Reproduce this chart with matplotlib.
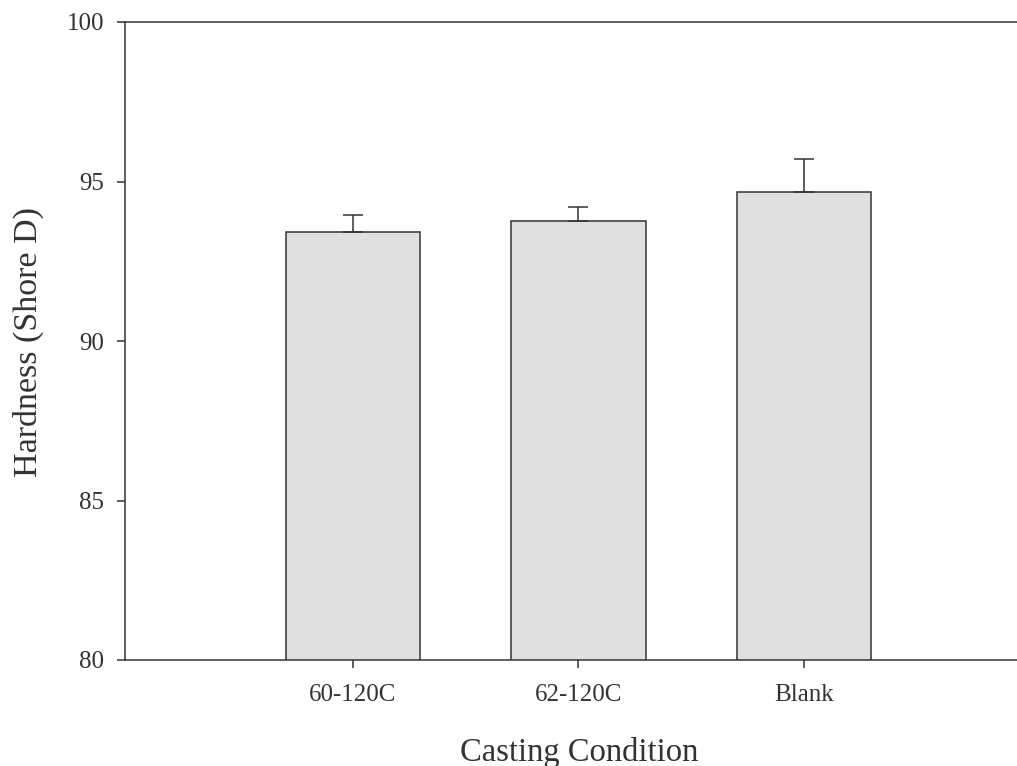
import matplotlib
matplotlib.use("Agg")
import matplotlib.pyplot as plt

# Shore D hardness by casting condition (mean with upper error)
conditions = ["60-120C", "62-120C", "Blank"]
hardness = [93.43, 93.77, 94.67]
hardness_err = [0.53, 0.44, 1.04]
yticks = [80, 85, 90, 95, 100]

plt.rcParams["font.family"] = ["Liberation Serif", "DejaVu Serif"]
ink = "#333333"

W, H = 1017, 766
fig = plt.figure(figsize=(W / 100, H / 100), dpi=100)
left, right, top, bottom = 125, 1017, 22, 660
ax = fig.add_axes([left / W, (H - bottom) / H, (right - left) / W, (bottom - top) / H])

x = list(range(len(conditions)))
ax.bar(x, hardness, width=0.595, color="#e0e0e0", edgecolor=ink, linewidth=1.1,
       zorder=2)
ax.errorbar(x, hardness, yerr=[[0] * len(x), hardness_err], fmt="none",
            ecolor=ink, elinewidth=1.1, capsize=7, capthick=1.1, zorder=3)

ax.set_xlim(-1.011, 2.945)
ax.set_ylim(80, 100)
ax.set_yticks(yticks)
ax.set_xticks(x)
ax.set_xticklabels(conditions)

for side in ["left", "bottom", "top"]:
    ax.spines[side].set_color(ink)
    ax.spines[side].set_linewidth(1.1)
ax.spines["right"].set_visible(False)

ax.tick_params(axis="y", direction="out", length=6, width=1.1, color=ink,
               labelsize=18, labelcolor=ink, pad=9)
ax.tick_params(axis="x", direction="out", length=6, width=1.1, color=ink,
               labelsize=18, labelcolor=ink, pad=11)

fig.text(28 / W, 1 - 342 / H, "Hardness (Shore D)", rotation=90, fontsize=24.5,
         color=ink, ha="center", va="center")
fig.text(579 / W, 1 - 752 / H, "Casting Condition", fontsize=23.5,
         color=ink, ha="center", va="center")

fig.savefig("out.png", dpi=100, facecolor="white")
